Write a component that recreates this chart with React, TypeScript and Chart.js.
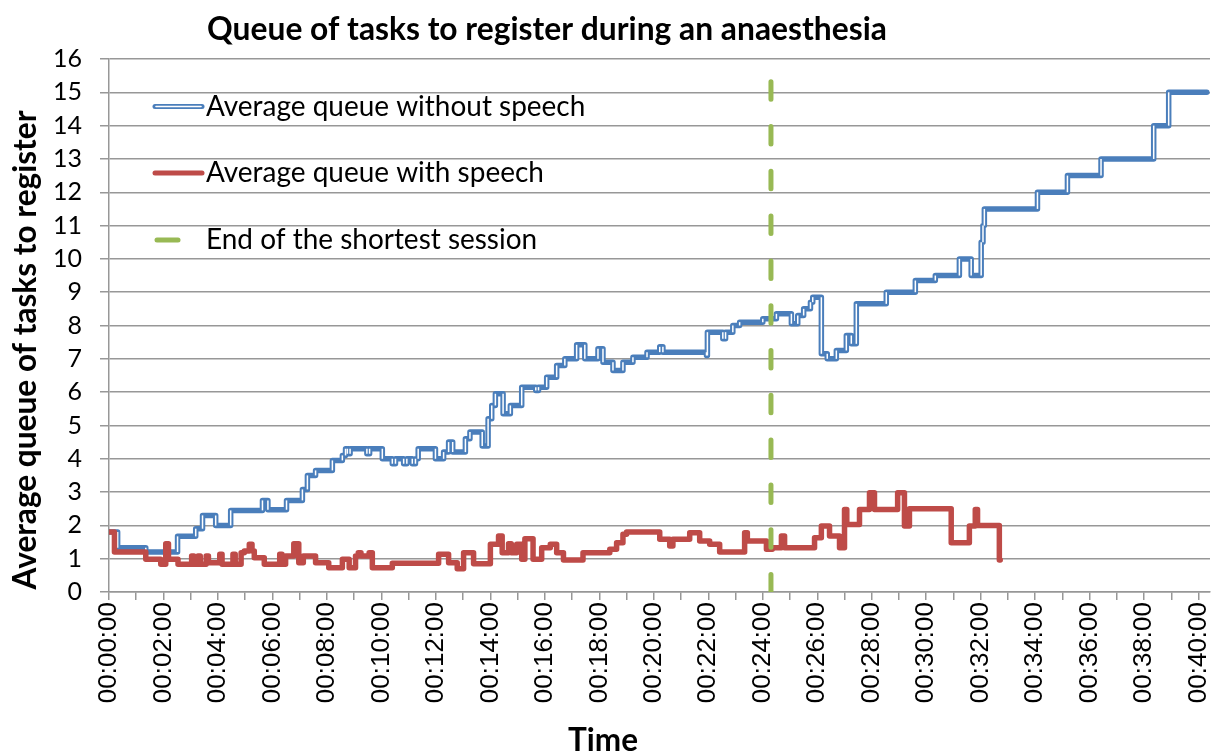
import React, { useEffect, useRef } from "react";
import { Chart, registerables } from "chart.js";

Chart.register(...registerables);

const TITLE = "Queue of tasks to register during an anaesthesia";
const Y_TITLE = "Average queue of tasks to register";
const X_TITLE = "Time";
const SERIES_NAMES = [
  "Average queue without speech",
  "Average queue with speech",
  "End of the shortest session",
];

// time in seconds from start, value held until next time
const blueTimes = [
  0, 19, 81, 151, 191, 206, 235, 268, 338, 350, 391, 426, 437, 455, 492, 514, 521, 525, 531, 568,
  574, 602, 624, 631, 649, 656, 668, 675, 681, 719, 737, 748, 757, 785, 795, 822, 835, 843, 851, 868,
  884, 909, 940, 946, 964, 986, 1004, 1030, 1048, 1077, 1088, 1110, 1132, 1154, 1185, 1213, 1220, 1316, 1318, 1352,
  1358, 1374, 1389, 1440, 1470, 1503, 1517, 1530, 1545, 1550, 1569, 1582, 1602, 1624, 1635, 1646, 1712, 1776, 1820, 1873,
  1899, 1921, 1925, 1928, 2045, 2111, 2185, 2301, 2334,
];
const blueValues = [
  1.8, 1.33, 1.2, 1.67, 1.9, 2.3, 2.0, 2.45, 2.75, 2.47, 2.75, 3.08, 3.5, 3.65, 3.95, 4.1, 4.3, 4.15, 4.3, 4.15,
  4.3, 4.0, 3.85, 4.0, 3.85, 4.0, 3.85, 4.0, 4.3, 4.0, 4.2, 4.5, 4.2, 4.6, 4.8, 4.38, 5.2, 5.6, 5.95, 5.35,
  5.6, 6.15, 6.05, 6.15, 6.45, 6.8, 7.0, 7.42, 7.0, 7.3, 6.9, 6.65, 6.9, 7.05, 7.2, 7.36, 7.2, 7.1, 7.8, 7.6,
  7.8, 8.0, 8.1, 8.2, 8.35, 8.05, 8.3, 8.5, 8.7, 8.85, 7.15, 7.0, 7.25, 7.7, 7.45, 8.65, 9.0, 9.35, 9.5, 10.0,
  9.5, 10.5, 11.0, 11.5, 12.0, 12.5, 13.0, 14.0, 15.0,
];
const blueEnd = 2418;

const redTimes = [
  0, 12, 81, 114, 125, 131, 152, 182, 187, 196, 201, 214, 219, 244, 249, 273, 278, 291, 298, 309,
  315, 320, 342, 376, 381, 389, 407, 418, 428, 455, 484, 514, 529, 543, 549, 555, 573, 580, 624, 726,
  748, 767, 781, 803, 840, 858, 866, 880, 886, 898, 909, 916, 934, 953, 972, 986, 1001, 1044, 1103, 1118,
  1132, 1140, 1213, 1235, 1242, 1279, 1301, 1323, 1345, 1400, 1406, 1448, 1461, 1481, 1488, 1554, 1569, 1587, 1609, 1620,
  1625, 1653, 1675, 1686, 1737, 1752, 1763, 1855, 1895, 1908, 1913, 1961,
];
const redValues = [
  1.8, 1.2, 0.98, 0.83, 1.45, 0.98, 0.83, 1.08, 0.83, 1.08, 0.83, 1.08, 0.88, 1.13, 0.83, 1.13, 0.83, 1.18, 1.23, 1.43,
  1.23, 1.03, 0.83, 1.13, 0.83, 1.08, 1.45, 0.88, 1.08, 0.88, 0.73, 0.98, 0.73, 1.08, 1.18, 1.08, 1.18, 0.73, 0.86, 1.13,
  0.88, 0.7, 1.18, 0.85, 1.43, 1.68, 1.18, 1.45, 1.18, 1.43, 0.98, 1.6, 0.98, 1.33, 1.43, 1.18, 0.96, 1.18, 1.28, 1.48,
  1.73, 1.8, 1.58, 1.38, 1.58, 1.78, 1.53, 1.43, 1.2, 1.78, 1.53, 1.28, 1.33, 1.68, 1.33, 1.63, 1.98, 1.68, 1.33, 2.48,
  2.03, 2.48, 2.98, 2.48, 2.98, 1.98, 2.5, 1.48, 1.98, 2.48, 2.0, 0.96,
];
const redEnd = 1963;

const sessionEndTime = 1458;
const sessionEndRange = [0, 15.5];

const yTickValues = [0, 1, 2, 3, 4, 5, 6, 7, 8, 9, 10, 11, 12, 13, 14, 15, 16];
const xTickSeconds = [
  0, 60, 120, 180, 240, 300, 360, 420, 480, 540, 600, 660, 720, 780, 840, 900, 960, 1020, 1080, 1140,
  1200, 1260, 1320, 1380, 1440, 1500, 1560, 1620, 1680, 1740, 1800, 1860, 1920, 1980, 2040, 2100, 2160, 2220, 2280, 2340, 2400,
];
const xTickLabels = [
  "00:00:00", "", "00:02:00", "", "00:04:00", "", "00:06:00", "", "00:08:00", "", "00:10:00", "",
  "00:12:00", "", "00:14:00", "", "00:16:00", "", "00:18:00", "", "00:20:00", "", "00:22:00", "",
  "00:24:00", "", "00:26:00", "", "00:28:00", "", "00:30:00", "", "00:32:00", "", "00:34:00", "",
  "00:36:00", "", "00:38:00", "", "00:40:00",
];
const X_MAX = 2425;

const BLUE = "#4A7EBB";
const RED = "#BE4B48";
const GREEN = "#98B954";
const GRID = "#979797";
const FONT = "Lato";

function stepPoints(times: number[], values: number[], end: number) {
  const pts: { x: number; y: number }[] = [];
  for (let i = 0; i < times.length; i++) {
    const next = i + 1 < times.length ? times[i + 1] : end;
    pts.push({ x: times[i], y: values[i] });
    pts.push({ x: next, y: values[i] });
  }
  return pts;
}

function setFitted(ctx: CanvasRenderingContext2D, text: string, weight: string, target: number) {
  ctx.font = `${weight} 30px ${FONT}`;
  const w = ctx.measureText(text).width;
  const size = (30 * target) / w;
  ctx.font = `${weight} ${size}px ${FONT}`;
  return size;
}

const overlayPlugin = {
  id: "overlayTexts",
  afterDraw(chart: any) {
    const ctx: CanvasRenderingContext2D = chart.ctx;
    ctx.save();
    ctx.fillStyle = "#000";

    // title
    setFitted(ctx, TITLE, "bold", 680);
    ctx.textAlign = "center";
    ctx.textBaseline = "alphabetic";
    ctx.fillText(TITLE, 547, 40);

    // x axis title
    setFitted(ctx, X_TITLE, "bold", 70);
    ctx.fillText(X_TITLE, 603, 751);

    // y axis title
    ctx.save();
    ctx.translate(35.5, 350);
    ctx.rotate(-Math.PI / 2);
    setFitted(ctx, Y_TITLE, "bold", 479);
    ctx.textAlign = "center";
    ctx.fillText(Y_TITLE, 0, 0);
    ctx.restore();

    // legend
    const size = setFitted(ctx, SERIES_NAMES[1], "normal", 338);
    ctx.font = `normal ${size}px ${FONT}`;
    ctx.textAlign = "left";
    ctx.textBaseline = "middle";
    const rows = [106.5, 173, 240];
    const lx0 = 155;
    const lx1 = 202;
    const tx = 206;
    ctx.lineCap = "round";
    ctx.strokeStyle = BLUE;
    ctx.lineWidth = 5;
    ctx.beginPath();
    ctx.moveTo(lx0, rows[0]);
    ctx.lineTo(lx1, rows[0]);
    ctx.stroke();
    ctx.strokeStyle = "#fff";
    ctx.lineWidth = 1.6;
    ctx.beginPath();
    ctx.moveTo(lx0 + 1, rows[0]);
    ctx.lineTo(lx1 - 1, rows[0]);
    ctx.stroke();
    ctx.strokeStyle = RED;
    ctx.lineWidth = 5;
    ctx.beginPath();
    ctx.moveTo(lx0, rows[1]);
    ctx.lineTo(lx1, rows[1]);
    ctx.stroke();
    ctx.strokeStyle = GREEN;
    ctx.beginPath();
    ctx.moveTo(lx0 + 2, rows[2]);
    ctx.lineTo(178, rows[2]);
    ctx.stroke();

    ctx.fillStyle = "#000";
    SERIES_NAMES.forEach((name, i) => ctx.fillText(name, tx, rows[i]));
    ctx.restore();
  },
};

export default function App() {
  const canvasRef = useRef<HTMLCanvasElement | null>(null);

  useEffect(() => {
    document.body.style.margin = "0";
    const canvas = canvasRef.current;
    if (!canvas) return;
    const bluePts = stepPoints(blueTimes, blueValues, blueEnd);
    const redPts = stepPoints(redTimes, redValues, redEnd);
    const greenPts = sessionEndRange.map((y) => ({ x: sessionEndTime, y }));

    const chart = new Chart(canvas, {
      type: "line",
      data: {
        datasets: [
          {
            label: SERIES_NAMES[2],
            data: greenPts,
            borderColor: GREEN,
            borderWidth: 5,
            borderDash: [17.5, 27.3],
            borderCapStyle: "round",
            pointRadius: 0,
            order: 0,
          },
          {
            label: SERIES_NAMES[1],
            data: redPts,
            borderColor: RED,
            borderWidth: 5.5,
            borderJoinStyle: "round",
            borderCapStyle: "round",
            pointRadius: 0,
            tension: 0,
            order: 1,
          },
          {
            label: "inner",
            data: bluePts,
            borderColor: "rgba(0,0,0,0)",
            borderWidth: 1.5,
            pointRadius: 0,
            tension: 0,
            order: 2,
            segment: {
              borderColor: (c: any) =>
                Math.abs(c.p0.x - c.p1.x) < 0.01 ? "#ffffff" : "rgba(0,0,0,0)",
            },
          },
          {
            label: SERIES_NAMES[0],
            data: bluePts,
            borderColor: BLUE,
            borderWidth: 5.5,
            borderJoinStyle: "round",
            borderCapStyle: "round",
            pointRadius: 0,
            tension: 0,
            order: 3,
          },
        ],
      },
      options: {
        animation: false,
        responsive: false,
        devicePixelRatio: 1,
        layout: { padding: { top: 59, right: 13, left: 0, bottom: 0 } },
        plugins: {
          legend: { display: false },
          title: { display: false },
          tooltip: { enabled: false },
        },
        scales: {
          x: {
            type: "linear",
            min: 0,
            max: X_MAX,
            afterBuildTicks: (s: any) => {
              s.ticks = xTickSeconds.map((v) => ({ value: v }));
            },
            afterFit: (s: any) => {
              s.height = 162;
              s.paddingLeft = 0;
              s.paddingRight = 0;
            },
            ticks: {
              autoSkip: false,
              minRotation: 90,
              maxRotation: 90,
              padding: 2,
              color: "#000",
              font: { family: "Liberation Sans", size: 26 },
              callback: (v: any) => {
                const i = xTickSeconds.indexOf(Number(v));
                return i >= 0 ? xTickLabels[i] : "";
              },
            },
            grid: {
              drawOnChartArea: false,
              drawTicks: true,
              tickLength: 8,
              color: GRID,
              lineWidth: 1.5,
            },
            border: { display: true, color: GRID, width: 1.5 },
          },
          y: {
            min: 0,
            max: 16,
            afterBuildTicks: (s: any) => {
              s.ticks = yTickValues.map((v) => ({ value: v }));
            },
            afterFit: (s: any) => {
              s.width = 109;
              s.paddingTop = 0;
              s.paddingBottom = 0;
            },
            ticks: {
              padding: 18,
              color: "#000",
              font: { family: FONT, size: 25 },
            },
            grid: { color: GRID, lineWidth: 1.5, tickLength: 9 },
            border: { display: true, color: GRID, width: 1.5 },
          },
        },
      },
      plugins: [overlayPlugin],
    });
    return () => chart.destroy();
  }, []);

  return (
    <canvas
      ref={canvasRef}
      width={1223}
      height={754}
      style={{ position: "fixed", left: 0, top: 0, display: "block", background: "#fff" }}
    />
  );
}
